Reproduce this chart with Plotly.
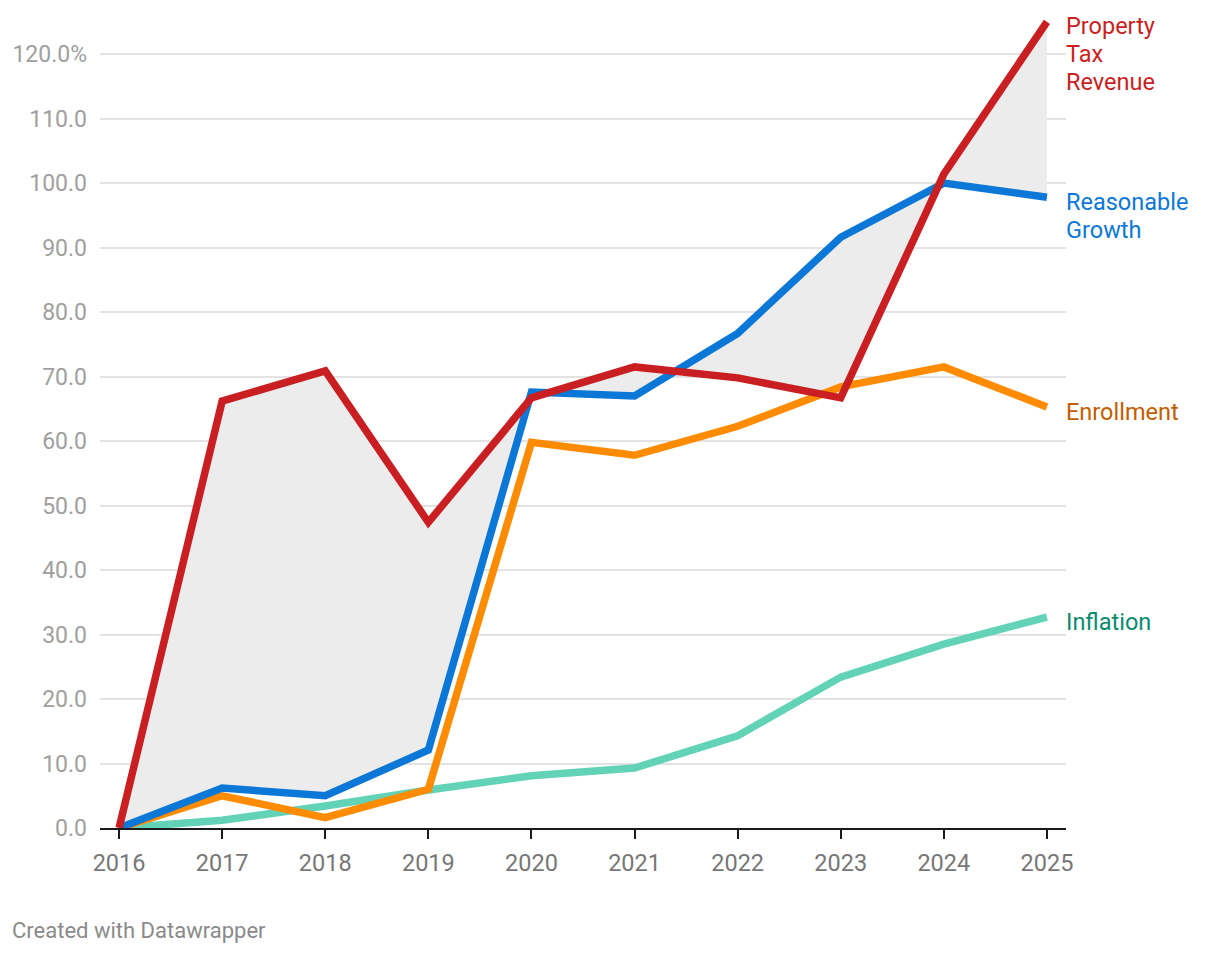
import plotly.graph_objects as go

years = [2016, 2017, 2018, 2019, 2020, 2021, 2022, 2023, 2024, 2025]
property_tax = [0, 66.2, 70.9, 47.4, 66.7, 71.5, 69.8, 66.7, 101.4, 125.0]
reasonable_growth = [0, 6.2, 5.0, 12.1, 67.6, 67.0, 76.7, 91.6, 100.0, 97.8]
enrollment = [0, 5.0, 1.6, 6.0, 59.8, 57.8, 62.3, 68.4, 71.5, 65.3]
inflation = [0, 1.2, 3.4, 5.9, 8.1, 9.3, 14.3, 23.4, 28.5, 32.7]

y_tickvals = [0, 10, 20, 30, 40, 50, 60, 70, 80, 90, 100, 110, 120]
y_ticktext = ["0.0", "10.0", "20.0", "30.0", "40.0", "50.0", "60.0", "70.0",
              "80.0", "90.0", "100.0", "110.0", "120.0%"]

# page is rendered with an 8px body margin
W, H = 1204, 938
ML, MR, MT, MB = 92, 146, 1, 118
FONT = "Roboto"
LINE_GAP = 28

fig = go.Figure()

# shaded area between Property Tax Revenue and Reasonable Growth
fig.add_trace(go.Scatter(x=years, y=reasonable_growth, mode="lines",
                         line=dict(width=0), hoverinfo="skip", showlegend=False))
fig.add_trace(go.Scatter(x=years, y=property_tax, mode="lines", fill="tonexty",
                         fillcolor="#ececec", line=dict(width=0),
                         hoverinfo="skip", showlegend=False))

series = [
    (["Inflation"], inflation, "#62d3b6", "#0a8a6e", -5),
    (["Enrollment"], enrollment, "#ff8c00", "#c45c00", -5),
    (["Reasonable", "Growth"], reasonable_growth, "#0b77d6", "#0b77d6", -19),
    (["Property", "Tax", "Revenue"], property_tax, "#c91f22", "#c91f22", -32),
]

for lines, vals, color, lblcolor, ysh in series:
    fig.add_trace(go.Scatter(x=years, y=vals, mode="lines",
                             line=dict(color=color, width=7.5),
                             name=" ".join(lines), showlegend=False))
    n = len(lines)
    for i, txt in enumerate(lines):
        fig.add_annotation(x=years[-1], y=vals[-1], text=txt, showarrow=False,
                           xanchor="left", yanchor="middle", align="left",
                           xshift=17,
                           yshift=ysh + ((n - 1) / 2 - i) * LINE_GAP,
                           font=dict(family=FONT, size=23.5, color=lblcolor))

plot_w = W - ML - MR
plot_h = H - MT - MB
fig.add_annotation(xref="paper", yref="paper",
                   x=(2 - ML) / plot_w, y=-(922 - (H - MB)) / plot_h,
                   text="Created with Datawrapper", showarrow=False,
                   xanchor="left", yanchor="middle",
                   font=dict(family=FONT, size=22, color="#8a8a8a"))

fig.update_layout(
    width=W, height=H,
    margin=dict(l=ML, r=MR, t=MT, b=MB),
    paper_bgcolor="white", plot_bgcolor="white",
    font=dict(family=FONT),
    xaxis=dict(range=[2015.815, 2025.185], tickvals=years,
               ticktext=[str(y) for y in years],
               showgrid=False, zeroline=False,
               showline=True, linecolor="#1a1a1a", linewidth=2,
               ticks="outside", ticklen=9, tickwidth=2, tickcolor="#1a1a1a",
               ticklabelstandoff=4,
               tickfont=dict(family=FONT, size=23.5, color="#777777")),
    yaxis=dict(range=[0, 127], tickvals=y_tickvals, ticktext=y_ticktext,
               showgrid=True, gridcolor="#e3e3e3", gridwidth=1.5,
               zeroline=False, showline=False, ticks="",
               ticklabelstandoff=12,
               tickfont=dict(family=FONT, size=23, color="#a0a0a0")),
)

fig.write_html("out.html")
